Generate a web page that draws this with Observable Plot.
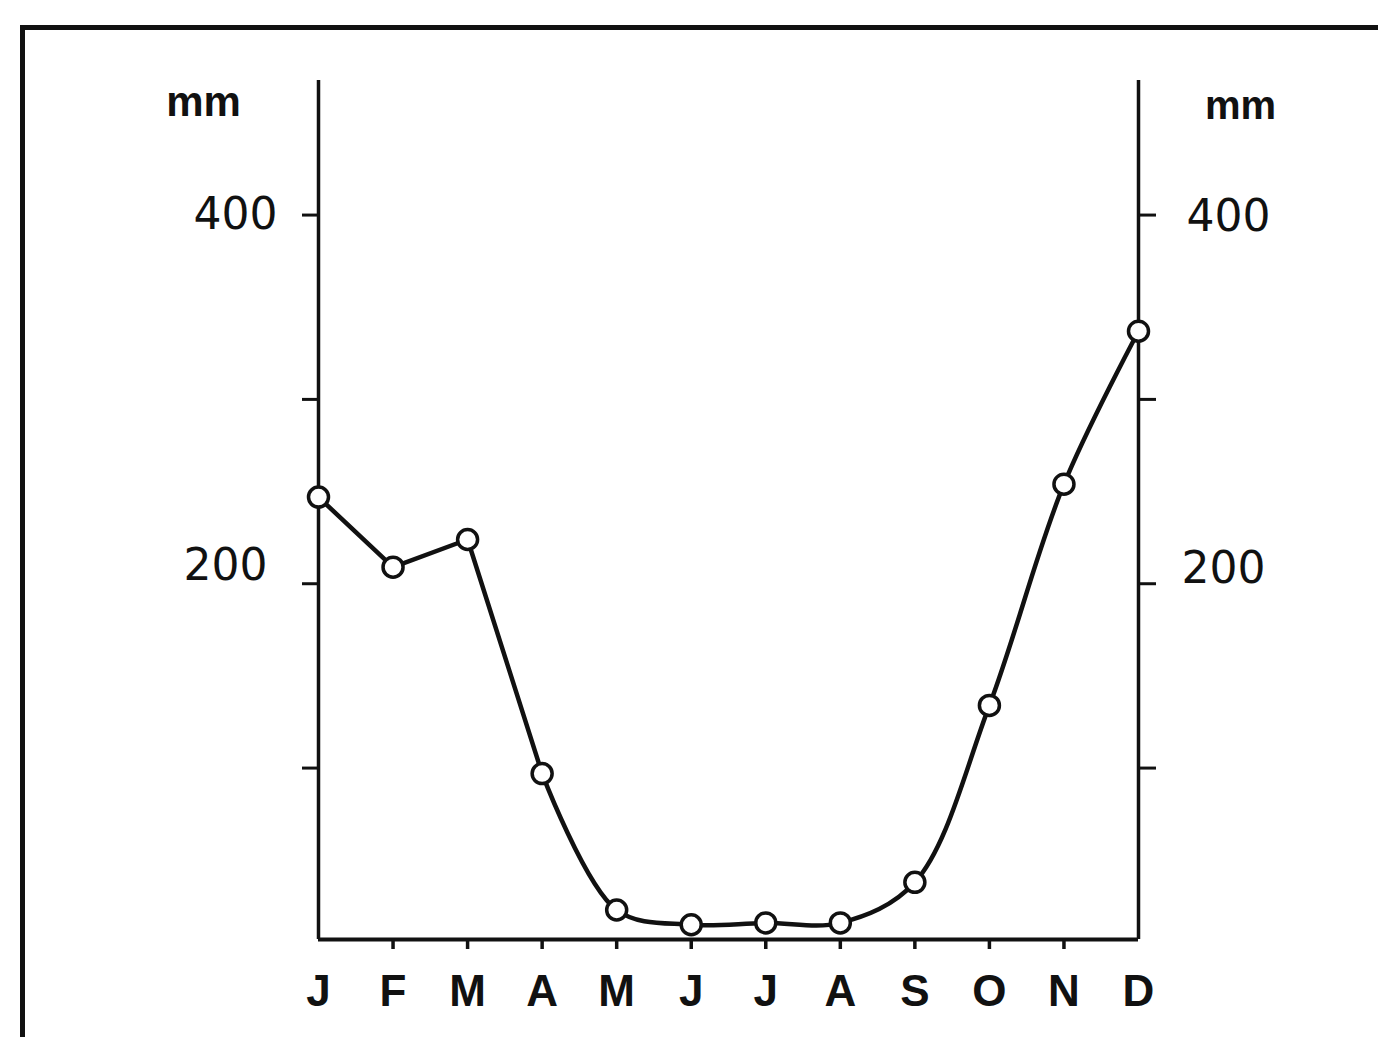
<!DOCTYPE html>
<html><head><meta charset="utf-8">
<script src="https://cdn.jsdelivr.net/npm/d3@7"></script>
<script src="https://cdn.jsdelivr.net/npm/@observablehq/plot@0.6"></script>
<style>
html,body{margin:0;padding:0;background:#fff;width:1378px;height:1037px;overflow:hidden;}
#wrap{position:relative;width:1378px;height:1037px;}
#wrap svg{position:absolute;left:0;top:0;}
#border{position:absolute;left:20px;top:25px;width:1400px;height:1100px;border-top:5px solid #111;border-left:5px solid #111;pointer-events:none;z-index:2;}
</style></head><body><div id="wrap"></div>
<script>
const months = ["J","F","M","A","M","J","J","A","S","O","N","D"];
const rainfall = [247, 209, 224, 97, 23, 15, 16, 16, 38, 134, 254, 337];
const yTicks = [100, 200, 300, 400];
const yLabels = [200, 400];
const unitLabel = "mm";
const yMin = 7, yMax = 473;

const ink = "#111";
const numFont = "DejaVu Sans";
const boldFont = "Liberation Sans";

const chart = Plot.plot({
  width: 1378,
  height: 1037,
  marginLeft: 318,
  marginRight: 240,
  marginTop: 80,
  marginBottom: 98,
  style: {background: "transparent"},
  x: {domain: [0, months.length - 1]},
  y: {domain: [yMin, yMax]},
  marks: [
    Plot.ruleX([0, months.length - 1], {y1: yMin, y2: yMax, stroke: ink, strokeWidth: 3.5}),
    Plot.ruleY([yMin], {stroke: ink, strokeWidth: 4}),
    Plot.axisY({anchor: "left", ticks: yTicks, tickSize: 16, tickFormat: () => "", strokeWidth: 3, stroke: ink, label: null}),
    Plot.axisY({anchor: "right", ticks: yTicks, tickSize: 17, tickFormat: () => "", strokeWidth: 3, stroke: ink, label: null}),
    Plot.axisX({ticks: d3.range(1, months.length - 1), tickSize: 10, tickFormat: () => "", strokeWidth: 3.5, stroke: ink, label: null}),
    Plot.axisX({ticks: d3.range(0, months.length), tickSize: 0, tickPadding: 35, tickFormat: i => months[i],
      fontSize: 44, fontWeight: "bold", fontFamily: boldFont, fill: ink, label: null}),
    Plot.text(yLabels, {filter: d => d === 400, y: d => d, text: d => d, frameAnchor: "left", textAnchor: "end", dx: -41, dy: 0,
      fontSize: 44, fontFamily: numFont, fill: ink}),
    Plot.text(yLabels, {filter: d => d === 200, y: d => d, text: d => d, frameAnchor: "left", textAnchor: "end", dx: -51, dy: -18,
      fontSize: 44, fontFamily: numFont, fill: ink}),
    Plot.text(yLabels, {filter: d => d === 400, y: d => d, text: d => d, frameAnchor: "right", textAnchor: "start", dx: 48, dy: 2,
      fontSize: 44, fontFamily: numFont, fill: ink}),
    Plot.text(yLabels, {filter: d => d === 200, y: d => d, text: d => d, frameAnchor: "right", textAnchor: "start", dx: 43, dy: -15,
      fontSize: 44, fontFamily: numFont, fill: ink}),
    Plot.text([unitLabel], {frameAnchor: "top-left", dx: -115, dy: 22, textAnchor: "middle", lineAnchor: "middle",
      fontSize: 42, fontWeight: "bold", fontFamily: boldFont, fill: ink}),
    Plot.text([unitLabel], {frameAnchor: "top-right", dx: 102, dy: 26, textAnchor: "middle", lineAnchor: "middle",
      fontSize: 40, fontWeight: "bold", fontFamily: boldFont, fill: ink}),
    // early months drawn with straight segments, the rest as a smooth curve
    Plot.line(rainfall, {filter: (d, i) => i <= 3, x: (d, i) => i, y: d => d, curve: "linear", stroke: ink, strokeWidth: 4.5, strokeLinejoin: "round"}),
    Plot.line(rainfall, {filter: (d, i) => i >= 3, x: (d, i) => i, y: d => d, curve: "catmull-rom", stroke: ink, strokeWidth: 4.5}),
    Plot.dot(rainfall, {x: (d, i) => i, y: d => d, r: 10, fill: "white", stroke: ink, strokeWidth: 3.5})
  ]
});
const wrap = document.getElementById("wrap");
wrap.appendChild(chart);
const border = document.createElement("div");
border.id = "border";
wrap.appendChild(border);
</script></body></html>
